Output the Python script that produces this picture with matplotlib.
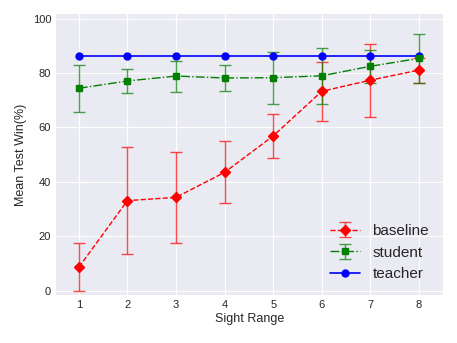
import numpy as np
import matplotlib
matplotlib.use("Agg")
from matplotlib import pyplot as plt

sight_range = [1, 2, 3, 4, 5, 6, 7, 8]
baseline_mean = [8.6, 33.1, 34.3, 43.5, 56.9, 73.3, 77.4, 81.1]
baseline_err = [8.8, 19.7, 16.7, 11.4, 8.1, 10.8, 13.4, 4.6]
student_mean = [74.4, 77.1, 78.9, 78.2, 78.3, 79.0, 82.5, 85.4]
student_err = [8.7, 4.4, 5.7, 4.9, 9.5, 10.3, 6.1, 9.0]
teacher_mean = [86.2] * 8

plt.style.use("seaborn-v0_8-darkgrid")
plt.rcParams["font.family"] = ["Liberation Sans", "DejaVu Sans"]

fig = plt.figure(figsize=(4.57, 3.43), dpi=100)
ax = fig.add_axes([0.1225, 0.140, 0.8465, 0.819])

h_base = ax.errorbar(sight_range, baseline_mean, yerr=baseline_err, fmt="r--", marker="D",
                     markersize=5, linewidth=1, capsize=4, elinewidth=1,
                     ecolor=(1, 0, 0, 0.7), label="baseline")
h_stud = ax.errorbar(sight_range, student_mean, yerr=student_err, fmt="g-.", marker="s",
                     markersize=5, linewidth=1, capsize=4, elinewidth=1,
                     ecolor=(0, 0.5, 0, 0.7), label="student")
h_teach, = ax.plot(sight_range, teacher_mean, "b-", marker="o", markersize=5,
                   linewidth=1.2, label="teacher")

ax.set_xlim(0.53, 8.49)
ax.set_ylim(-1.6, 101.7)
ax.set_xticks(sight_range)
ax.set_yticks([0, 20, 40, 60, 80, 100])
ax.tick_params(labelsize=8, labelcolor="0.15")
ax.set_xlabel("Sight Range", fontsize=9, labelpad=2, color="0.15")
ax.set_ylabel("Mean Test Win(%)", fontsize=9, labelpad=4, color="0.15")
ax.legend([h_base, h_stud, h_teach], ["baseline", "student", "teacher"],
          loc="lower right", fontsize=11, frameon=False)

plt.savefig("out.png")
plt.close(fig)
